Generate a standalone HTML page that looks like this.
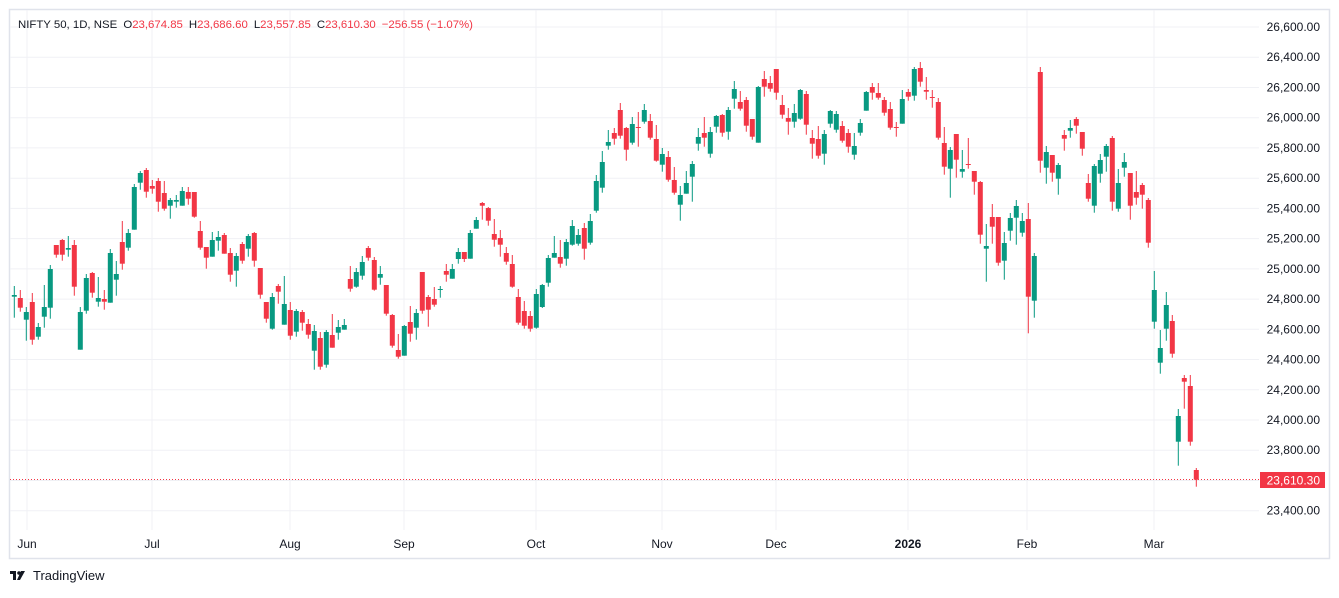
<!DOCTYPE html>
<html><head><meta charset="utf-8"><style>
html,body{margin:0;padding:0;background:#fff;}
body{width:1339px;height:593px;overflow:hidden;font-family:"Liberation Sans",sans-serif;}
svg text{font-family:"Liberation Sans",sans-serif;}
</style></head><body>
<svg id="c" width="1339" height="593" xmlns="http://www.w3.org/2000/svg">
<rect x="9.5" y="9.5" width="1320" height="549" fill="#fff" stroke="#e0e3eb" stroke-width="1.5"/>
<g id="grid"></g>
<g id="candles"></g>
<line x1="10" y1="479.5" x2="1259" y2="479.5" stroke="#f23645" stroke-width="1" stroke-dasharray="1,2"/>
<g id="axis" font-size="12" fill="#131722"></g>
<rect x="1260" y="472" width="65" height="16" fill="#f23645"/>
<text x="1320" y="484.5" font-size="12" fill="#fff" text-anchor="end">23,610.30</text>
<text x="18" y="28" font-size="11.4" fill="#131722">NIFTY 50, 1D, NSE <tspan dx="3">O</tspan><tspan fill="#f23645">23,674.85</tspan><tspan dx="6">H</tspan><tspan fill="#f23645">23,686.60</tspan><tspan dx="6">L</tspan><tspan fill="#f23645">23,557.85</tspan><tspan dx="6">C</tspan><tspan fill="#f23645">23,610.30</tspan><tspan dx="6" fill="#f23645">−256.55 (−1.07%)</tspan></text>
<g transform="translate(10,570)" fill="#131722">
<rect x="0" y="1" width="6" height="3"/><rect x="3" y="1" width="3" height="9"/><circle cx="9" cy="3" r="1.8"/><polygon points="11,1 15,1 10,10 7,10"/>
</g>
<text x="33" y="580" font-size="13" fill="#131722">TradingView</text>
</svg>
<script>
var NS="http://www.w3.org/2000/svg";
function el(p,t,a){var e=document.createElementNS(NS,t);for(var k in a)e.setAttribute(k,a[k]);p.appendChild(e);return e;}
var grid=document.getElementById('grid'),axis=document.getElementById('axis'),cg=document.getElementById('candles');
var step=(510.7-27)/16;
for(var k=0;k<=17;k++){var y=27+k*step;if(y>530)break;
 el(grid,'line',{x1:10,x2:1259,y1:y.toFixed(1),y2:y.toFixed(1),stroke:'#f0f1f5','stroke-width':1});
 var v=26600-k*200;
 if(Math.abs(y-479)>12){var t=el(axis,'text',{x:1320,y:(y+4).toFixed(1),'text-anchor':'end'});t.textContent=v.toLocaleString('en-US')+'.00';}
}
var months=[['Jun',27],['Jul',152],['Aug',290],['Sep',404],['Oct',536],['Nov',662],['Dec',776],['2026',908],['Feb',1027],['Mar',1154]];
months.forEach(function(m){el(grid,'line',{x1:m[1],x2:m[1],y1:10,y2:530,stroke:'#f0f1f5','stroke-width':1});
 var t=el(axis,'text',{x:m[1],y:548,'text-anchor':'middle','font-weight':m[0]=='2026'?'bold':'normal'});t.textContent=m[0];});
var Z=[
[150,0,[
'g 435 440 408 503','r 444 473 420 485','g 486 509 471 572','r 456 569 429 584','g 531 560 519 569','g 471 500 405 533','g 357 473 345 506','r 285 314 285 323','r 270 314 267 332','g 294 299 258 320','r 285 410 270 437','g 486 599 471 599','g 384 482 372 491','r 369 428 366 443','g 444 455 381 470','r 447 455 420 479','g 309 458 297 458','g 372 389 333 437','r 276 341 213 359','g 249 293 237 302','g 111 239 102 239','g 69 98 63 119','r 60 125 54 143','r 108 116 90 131','r 93 155 84 185','r 129 176 93 182','g 150 167 144 206','g 150 155 135 173','g 123 167 111 167','r 126 146 111 164','r 126 200 126 203','r 243 293 213 299','r 291 323 291 356','g 270 320 246 320','g 261 272 243 302','r 255 311 249 311','r 309 374 294 395','g 318 362 309 410','r 282 332 276 341','g 258 296 252 320','r 249 332 246 350','r 354 434 354 446']],
[190,42,[
'r 336 386 336 398','g 321 416 309 419','r 288 305 282 341','g 342 404 258 404','r 360 437 336 449','g 363 425 357 440','r 366 398 360 422','r 402 434 387 446','g 423 482 405 539','r 444 530 426 539','g 426 524 420 533','r 435 473 372 473','g 411 428 390 449','g 405 419 387 419','r 267 296 228 305','g 246 290 234 293','g 216 257 198 269','r 174 203 168 212','r 210 299 201 302','g 252 263 228 284','r 285 371 285 377','r 375 467 372 473','r 480 500 432 506','g 408 497 405 497','r 396 431 348 455','g 369 413 357 449','r 246 362 246 371','r 321 359 315 410','r 327 344 291 350','g 297 299 288 323','r 243 254 222 275','g 237 266 222 266','g 186 207 174 221','r 186 207 186 216','g 129 206 120 206','g 90 116 81 116','r 39 47 36 89','r 54 92 51 107','r 132 149 87 170','r 144 164 120 200','r 189 215 171 224','r 222 290 195 293','r 321 398 297 404','r 363 407 333 416','r 378 416 363 425']],
[60,87,[
'g 702 803 687 806','g 675 741 672 744','g 594 668 585 680','g 579 593 528 593','r 591 611 540 623','g 546 596 537 617','g 498 554 480 557','g 525 551 507 557','r 504 566 489 599','g 483 548 462 554','g 363 452 345 458','g 306 383 273 398','g 246 257 210 269','r 219 236 204 254','r 150 227 129 236','r 204 269 201 302','g 192 248 171 254','r 201 203 156 260','g 150 185 132 191','r 183 233 162 239','r 237 302 195 305','g 282 314 264 335','r 291 359 273 365','r 360 398 321 404','g 405 434 378 482','g 369 401 333 401','g 312 350 303 425','g 231 251 204 272','r 219 233 171 260','g 216 281 201 293','g 168 200 165 218','r 165 218 162 230','g 150 215 141 239','g 87 116 63 146','r 126 146 93 152','r 120 197 111 215','r 177 230 177 239','g 81 248 78 248','r 57 80 33 110','r 69 86 48 95','r 27 98 27 119','r 135 164 105 176','r 174 185 144 224','g 159 185 132 203','g 90 176 87 179']],
[60,132,[
'r 102 194 93 224','r 234 251 210 296','r 237 287 198 296','g 222 281 210 314','g 153 191 150 203','g 162 209 153 218','r 198 242 183 248','r 219 260 207 278','g 258 284 219 299','g 189 218 177 227','g 96 152 93 152','r 81 98 69 119','r 99 113 69 119','r 120 158 111 167','r 147 203 126 209','r 201 203 186 230','g 117 191 90 191','r 96 110 87 122','g 27 107 21 122','r 24 65 6 80','r 90 95 51 119','r 111 113 90 143','r 126 233 114 239','r 249 320 201 344','g 270 326 261 413','r 222 299 222 353','g 327 335 270 353','r 312 314 234 326','r 333 365 333 404','r 366 524 363 551','g 558 566 492 665','r 471 500 432 551','r 471 608 471 617','g 549 602 516 659','g 474 512 459 542','g 438 473 420 554','g 483 518 459 530','r 477 710 429 820','g 588 722 579 773','r 36 302 21 338']],
[60,172,[
'g 276 323 258 371','r 285 338 285 365','g 315 356 309 404','r 225 236 210 272','g 204 212 180 233','r 177 197 171 221','r 216 266 216 287','r 369 416 342 425','g 318 437 312 458','g 300 341 282 368','g 258 290 252 335','r 234 425 228 452','g 369 446 327 455','g 306 323 279 350','r 339 437 339 479','r 396 413 333 434','r 375 404 369 446','r 420 548 414 563','g 690 785 633 806','g 864 908 810 941','g 735 806 696 842','r 783 881 765 893','g 1068 1145 1047 1217','r 954 965 945 1046','r 978 1145 945 1157','r 1230 1259 1224 1280']]
];
Z.forEach(function(z){var off=z[0];z[2].forEach(function(s,j){var p=s.split(' ');var i=z[1]+j;var x=14.3+6*i;
 var col=p[0]=='g'?'#089981':'#f23645';
 var bt=off+(+p[1])/3,bb=off+(+p[2])/3,wt=off+(+p[3])/3,wb=off+(+p[4])/3;
 el(cg,'rect',{x:(x-0.5).toFixed(1),y:wt.toFixed(1),width:1,height:Math.max(1,wb-wt).toFixed(1),fill:col});
 el(cg,'rect',{x:(x-2.5).toFixed(1),y:bt.toFixed(1),width:5,height:Math.max(1,bb-bt).toFixed(1),fill:col});
});});
</script>
</body></html>
